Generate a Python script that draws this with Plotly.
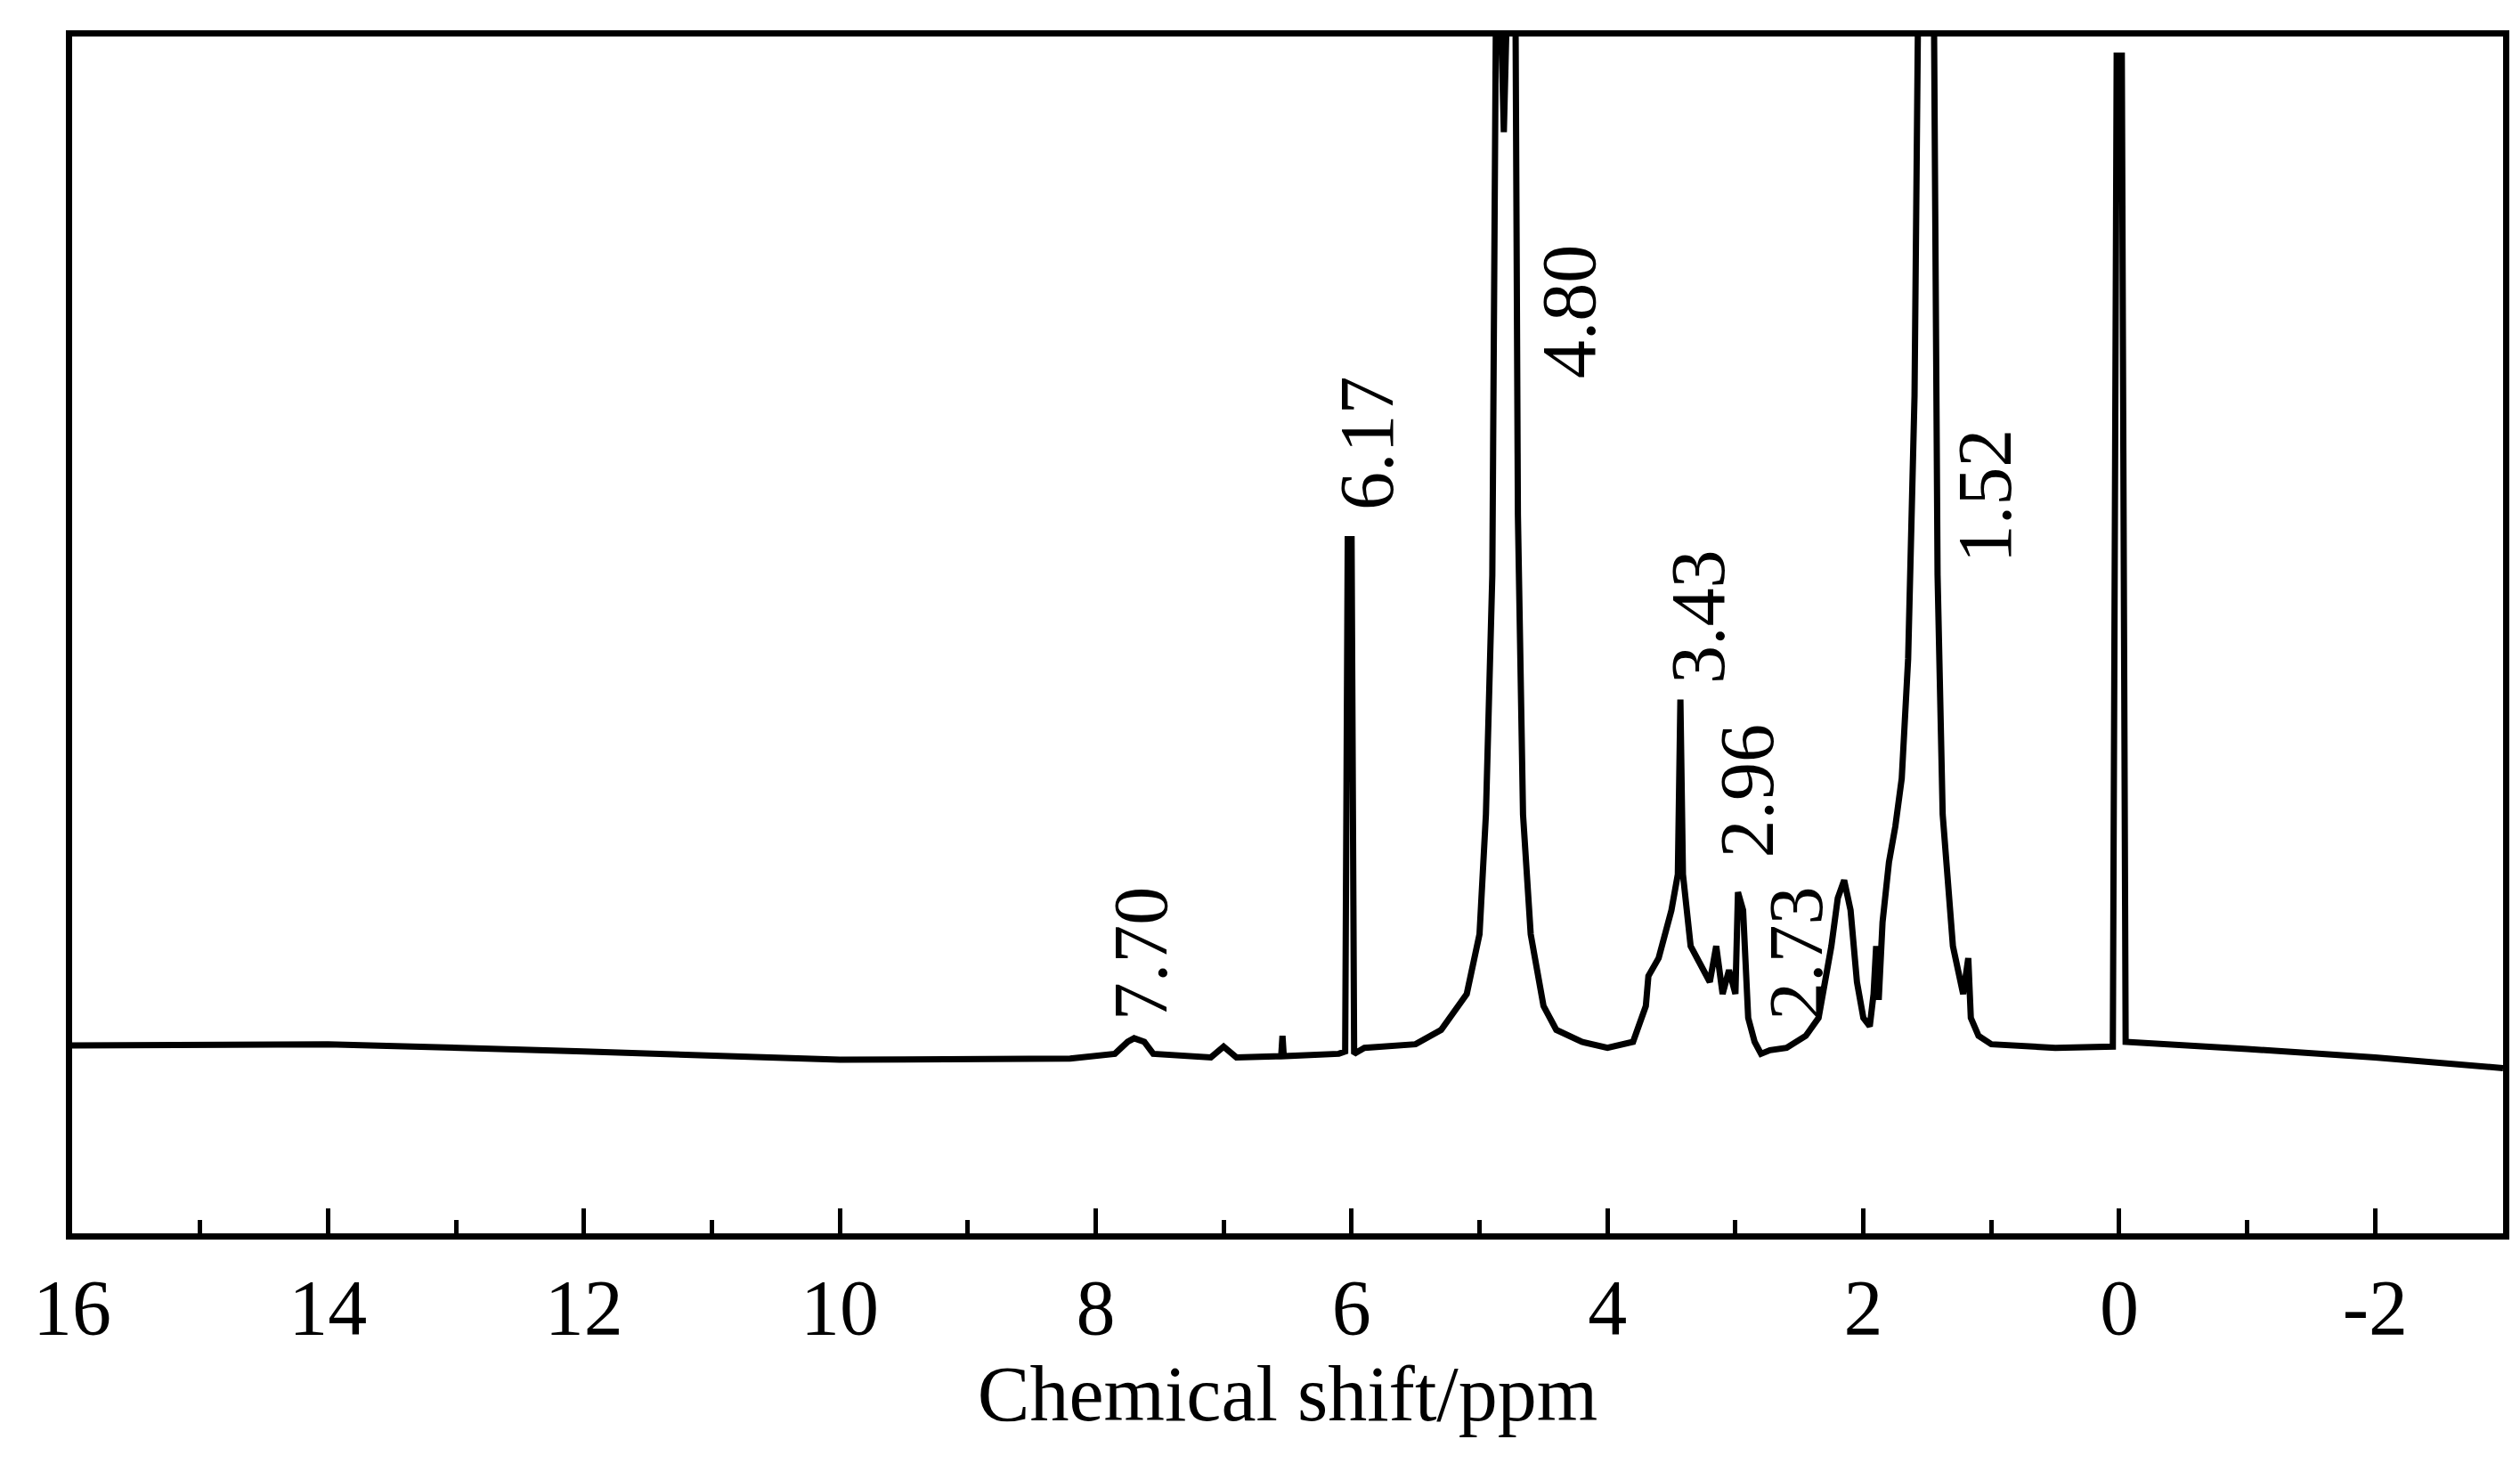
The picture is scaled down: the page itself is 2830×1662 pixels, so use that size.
import plotly.graph_objects as go

# spectrum: chemical shift (ppm) and intensity (a.u.)
ppm = [16, 14, 12, 10, 8.2, 7.85, 7.75, 7.7, 7.62, 7.55, 7.1, 7.0, 6.9, 6.55, 6.54, 6.53,
       6.1, 6.05, 6.03, 6.0, 5.98, 5.9, 5.5, 5.3, 5.1, 5.0, 4.95, 4.9, 4.87, 4.84, 4.81,
       4.78, 4.72, 4.7, 4.66, 4.6, 4.5, 4.4, 4.2, 4.0, 3.8, 3.7, 3.68, 3.6, 3.5, 3.45, 3.43,
       3.41, 3.35, 3.2, 3.15, 3.1, 3.05, 3.0, 2.98, 2.94, 2.9, 2.85, 2.8, 2.73,
       2.6, 2.45, 2.35, 2.25, 2.2, 2.15, 2.1, 2.05, 2.0, 1.95, 1.92, 1.9, 1.88, 1.85,
       1.8, 1.75, 1.7, 1.65, 1.6, 1.57, 1.45, 1.42, 1.38, 1.3, 1.22, 1.2, 1.18, 1.16,
       1.1, 1.0, 0.5, 0.05, 0.02, -0.02, -0.05, -1, -2, -3]
intensity = [15.7, 15.8, 15.2, 14.5, 14.6, 15.0, 16.0, 16.3, 16.0, 15.0, 14.7, 15.6, 14.7, 14.8, 16.5, 14.8,
             15.0, 15.2, 58, 58, 15.0, 15.5, 15.8, 17, 20, 25, 35, 55, 105, 105, 92,
             105, 105, 60, 35, 25, 19, 17, 16, 15.5, 16, 19, 21.5, 23, 27, 30, 44.6,
             30, 24, 21, 24, 20, 22, 20, 28.5, 27, 18, 16, 15, 15.3,
             15.5, 16.5, 18, 24, 28, 29.5, 27, 21, 18, 17.3, 20, 24, 19.5, 26,
             31, 34, 38, 48, 70, 105, 105, 55, 35, 24, 20, 22, 23, 18,
             16.5, 15.8, 15.5, 15.6, 98.4, 98.4, 16, 15.4, 14.7, 13.8]

peak_labels = ["7.70", "6.17", "4.80", "3.43", "2.96", "2.73", "1.52"]
label_x = [7.65, 5.88, 4.3, 3.29, 2.91, 2.53, 1.05]
label_y = [23.4, 66, 77, 51.5, 37, 23.4, 61.6]

font_family = "Liberation Serif"

fig = go.Figure()
fig.add_trace(go.Scatter(x=ppm, y=intensity, mode="lines",
                         line=dict(color="black", width=7), cliponaxis=True,
                         showlegend=False))

for txt, x, y in zip(peak_labels, label_x, label_y):
    fig.add_annotation(x=x, y=y, text=txt, showarrow=False, textangle=-90,
                       font=dict(family=font_family, size=86, color="black"))

fig.update_xaxes(
    range=[16, -3],
    title_text="Chemical shift/ppm",
    title_font=dict(family=font_family, size=88, color="black"),
    tickfont=dict(family=font_family, size=88, color="black"),
    tickvals=[16, 14, 12, 10, 8, 6, 4, 2, 0, -2],
    ticktext=["16", "14", "12", "10", "8", "6", "4", "2", "0", "-2"],
    ticks="inside", ticklen=28, tickwidth=5, tickcolor="black",
    minor=dict(dtick=1, ticks="inside", ticklen=15, tickwidth=5, tickcolor="black"),
    showline=True, linecolor="black", linewidth=7, mirror=True,
    showgrid=False, zeroline=False, title_standoff=10,
)
fig.update_yaxes(
    range=[0, 100], showticklabels=False, ticks="",
    showline=True, linecolor="black", linewidth=7, mirror=True,
    showgrid=False, zeroline=False,
)

fig.update_layout(
    width=2830, height=1662,
    margin=dict(l=73, r=27, t=33, b=285),
    paper_bgcolor="white", plot_bgcolor="white",
    font=dict(family=font_family, color="black"),
)

fig.write_html("out.html")
